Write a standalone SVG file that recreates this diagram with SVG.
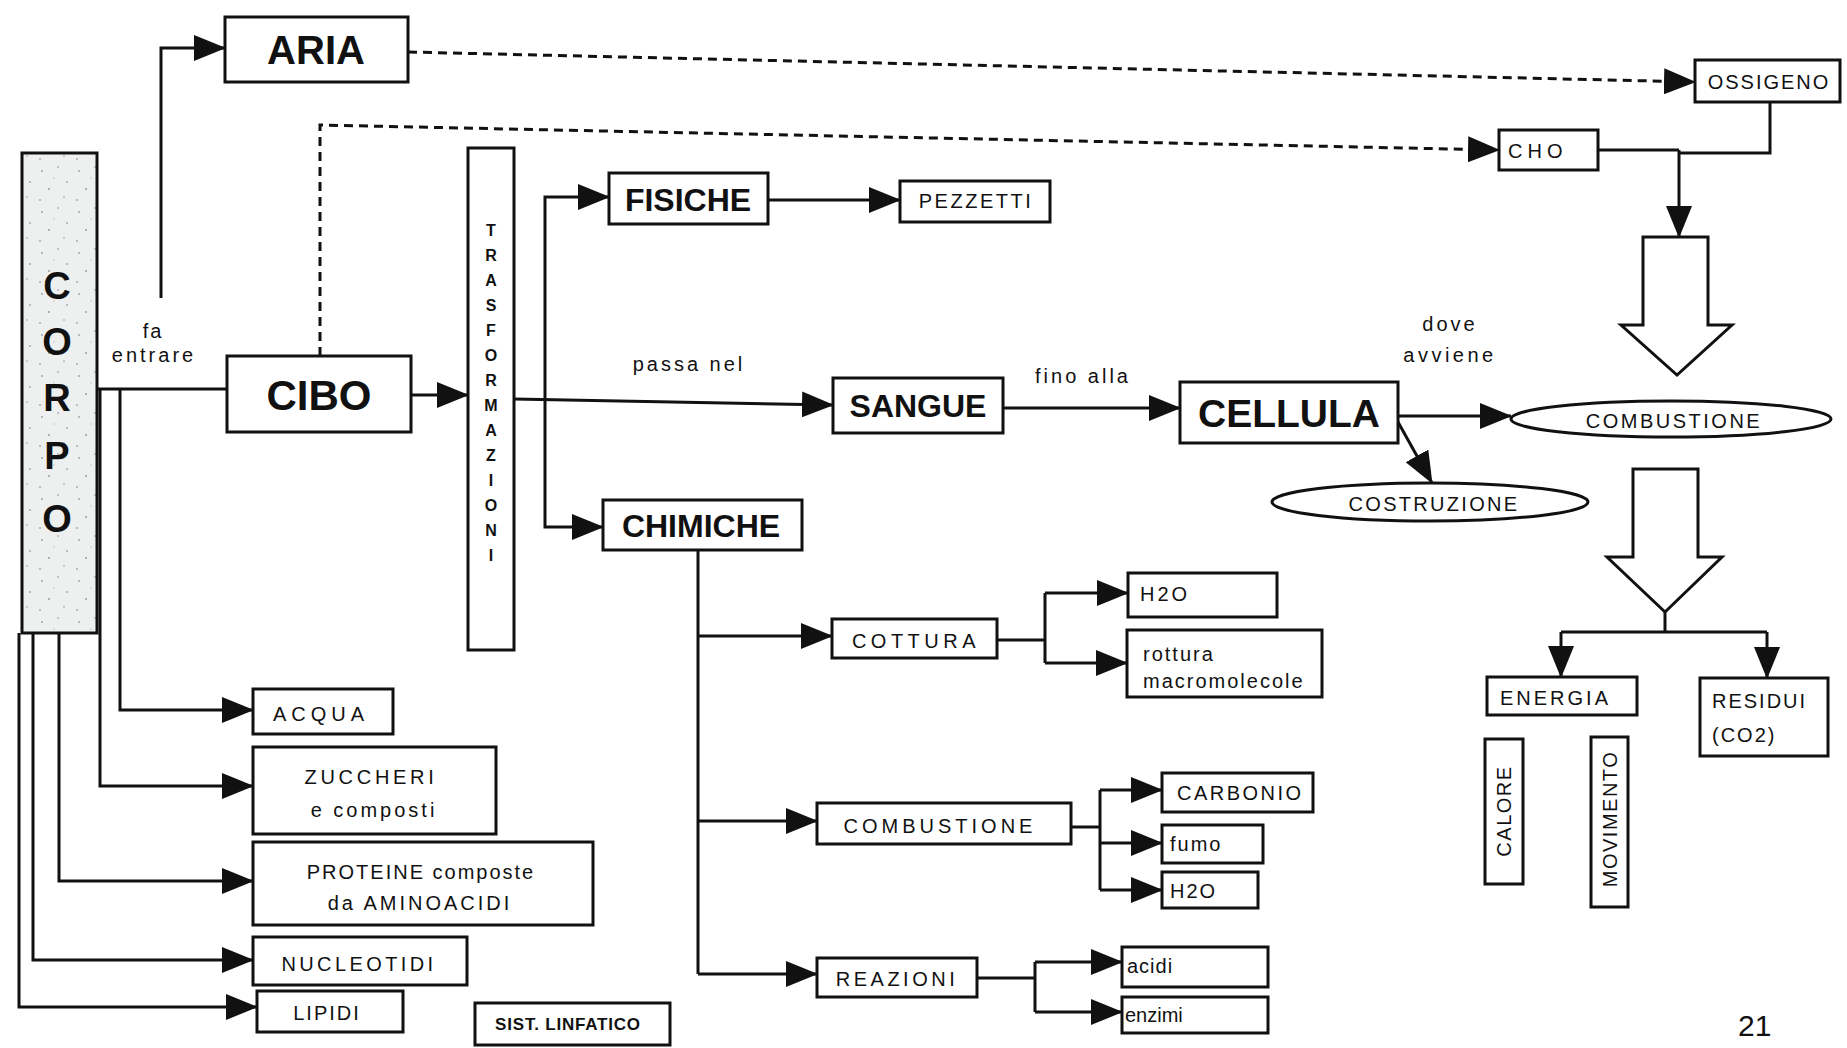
<svg xmlns="http://www.w3.org/2000/svg" width="1847" height="1048" viewBox="0 0 1847 1048">
<style>
.box{fill:#fff;stroke:#111;stroke-width:3}
.ln{fill:none;stroke:#111;stroke-width:3;marker-end:url(#ah)}
.ln0{fill:none;stroke:#111;stroke-width:3}
.dash{stroke-dasharray:9 6}
.b{font-family:"Liberation Sans",Arial,sans-serif;font-weight:bold;fill:#111}
.s{font-family:"Liberation Sans",Arial,sans-serif;font-size:20px;fill:#111}
.m{text-anchor:middle}
</style>
<defs>
<marker id="ah" markerUnits="userSpaceOnUse" markerWidth="32" markerHeight="26" viewBox="0 0 32 26" refX="31" refY="13" orient="auto">
<path d="M0,0 L32,13 L0,26 Z" fill="#111"/>
</marker>
<pattern id="speck" width="37" height="41" patternUnits="userSpaceOnUse">
<rect width="37" height="41" fill="#eef0f0"/>
<circle cx="5" cy="7" r="1" fill="#9aa"/><circle cx="21" cy="3" r="0.8" fill="#889"/>
<circle cx="30" cy="18" r="1" fill="#aab"/><circle cx="12" cy="25" r="0.9" fill="#899"/>
<circle cx="27" cy="33" r="0.8" fill="#99a"/><circle cx="3" cy="36" r="1" fill="#aaa"/>
<circle cx="17" cy="14" r="0.7" fill="#bbb"/>
</pattern>
</defs>

<g id="connectors">
<path class="ln" d="M161,298 V48 H225"/>
<path class="ln dash" d="M408,52 L1695,82"/>
<path class="ln dash" d="M320,356 V125 L1499,150"/>
<path class="ln0" d="M97,389 H227"/>
<path class="ln" d="M411,395 H468"/>
<path class="ln" d="M514,399 L833,405"/>
<path class="ln" d="M545,399 V197 H609"/>
<path class="ln" d="M545,399 V527 H603"/>
<path class="ln" d="M768,200 H900"/>
<path class="ln" d="M1003,408 H1180"/>
<path class="ln" d="M1398,416 H1511"/>
<path class="ln" d="M1398,422 L1432,483"/>
<path class="ln0" d="M1770,102 V153 H1679"/>
<path class="ln0" d="M1598,150 H1679"/>
<path class="ln" d="M1679,150 V237"/>
<path class="ln0" d="M1665,612 V632 M1561,632 H1767"/>
<path class="ln" d="M1561,632 V677"/>
<path class="ln" d="M1767,632 V678"/>
<path class="ln0" d="M698,551 V974"/>
<path class="ln" d="M698,636 H832"/>
<path class="ln" d="M698,821 H817"/>
<path class="ln" d="M698,974 H817"/>
<path class="ln0" d="M997,640 H1045 M1045,593 V663"/>
<path class="ln" d="M1045,593 H1128"/>
<path class="ln" d="M1045,663 H1127"/>
<path class="ln0" d="M1072,827 H1100 M1100,790 V890"/>
<path class="ln" d="M1100,790 H1162"/>
<path class="ln" d="M1100,843 H1162"/>
<path class="ln" d="M1100,890 H1162"/>
<path class="ln0" d="M977,978 H1035 M1035,962 V1012"/>
<path class="ln" d="M1035,962 H1122"/>
<path class="ln" d="M1035,1012 H1122"/>
<path class="ln" d="M120,389 V710 H253"/>
<path class="ln" d="M100,389 V786 H253"/>
<path class="ln" d="M59,633 V881 H253"/>
<path class="ln" d="M33,633 V960 H253"/>
<path class="ln" d="M19,633 V1007 H257"/>
</g>

<g id="labels">
<text class="s m" x="153" y="338" style="letter-spacing:2px">fa</text>
<text class="s m" x="154" y="362" style="letter-spacing:3px">entrare</text>
<text class="s m" x="689" y="371" style="letter-spacing:3px">passa nel</text>
<text class="s m" x="1083" y="383" style="letter-spacing:3px">fino alla</text>
<text class="s m" x="1450" y="331" style="letter-spacing:3px">dove</text>
<text class="s m" x="1450" y="362" style="letter-spacing:3.5px">avviene</text>
</g>

<g id="corpo">
<rect class="box" x="22" y="153" width="75" height="480" style="fill:url(#speck)"/>
<text class="b m" x="57" y="299" font-size="38">C</text>
<text class="b m" x="57" y="355" font-size="38">O</text>
<text class="b m" x="57" y="411" font-size="38">R</text>
<text class="b m" x="57" y="469" font-size="38">P</text>
<text class="b m" x="57" y="532" font-size="38">O</text>
</g>
<g id="aria"><rect class="box" x="225" y="17" width="183" height="65"/><text class="b m" x="316" y="64" font-size="40">ARIA</text></g>
<g id="ossigeno"><rect class="box" x="1695" y="60" width="145" height="42"/><text class="s m" x="1769" y="89" style="letter-spacing:2px">OSSIGENO</text></g>
<g id="cho"><rect class="box" x="1499" y="130" width="99" height="40"/><text class="s" x="1508" y="158" font-size="22" style="letter-spacing:5px">CHO</text></g>
<g id="cibo"><rect class="box" x="227" y="356" width="184" height="76"/><text class="b m" x="319" y="410" font-size="42">CIBO</text></g>
<g id="trasformazioni"><rect class="box" x="468" y="148" width="46" height="502"/>
<g class="b m" font-size="16">
<text x="491" y="236">T</text><text x="491" y="261">R</text><text x="491" y="286">A</text><text x="491" y="311">S</text><text x="491" y="336">F</text><text x="491" y="361">O</text><text x="491" y="386">R</text><text x="491" y="411">M</text><text x="491" y="436">A</text><text x="491" y="461">Z</text><text x="491" y="486">I</text><text x="491" y="511">O</text><text x="491" y="536">N</text><text x="491" y="561">I</text>
</g></g>
<g id="fisiche"><rect class="box" x="609" y="173" width="159" height="51"/><text class="b m" x="688" y="211" font-size="32">FISICHE</text></g>
<g id="pezzetti"><rect class="box" x="900" y="181" width="150" height="41"/><text class="s m" x="976" y="208" style="letter-spacing:2.5px">PEZZETTI</text></g>
<g id="chimiche"><rect class="box" x="603" y="500" width="199" height="50"/><text class="b m" x="701" y="537" font-size="32">CHIMICHE</text></g>
<g id="sangue"><rect class="box" x="833" y="378" width="170" height="55"/><text class="b m" x="918" y="417" font-size="32">SANGUE</text></g>
<g id="cellula"><rect class="box" x="1180" y="382" width="218" height="61"/><text class="b m" x="1289" y="427" font-size="39">CELLULA</text></g>
<g id="combustione-cell"><ellipse class="box" cx="1671" cy="419" rx="160" ry="18"/><text class="s m" x="1674" y="428" style="letter-spacing:2.5px">COMBUSTIONE</text></g>
<g id="costruzione"><ellipse class="box" cx="1430" cy="502" rx="158" ry="19"/><text class="s m" x="1434" y="511" style="letter-spacing:2.3px">COSTRUZIONE</text></g>
<g id="freccia1"><polygon class="box" points="1643,237 1708,237 1708,325 1732,325 1677,375 1621,325 1643,325"/></g>
<g id="freccia2"><polygon class="box" points="1633,469 1698,469 1698,557 1722,557 1665,612 1607,557 1633,557"/></g>
<g id="energia"><rect class="box" x="1487" y="677" width="150" height="38"/><text class="s" x="1500" y="705" style="letter-spacing:3px">ENERGIA</text></g>
<g id="residui"><rect class="box" x="1700" y="678" width="128" height="78"/><text class="s" x="1712" y="708" style="letter-spacing:2px">RESIDUI</text><text class="s" x="1712" y="742" style="letter-spacing:2px">(CO2)</text></g>
<g id="calore"><rect class="box" x="1485" y="739" width="38" height="145"/><text class="s m" transform="translate(1511,811) rotate(-90)" style="letter-spacing:1.5px">CALORE</text></g>
<g id="movimento"><rect class="box" x="1591" y="737" width="37" height="170"/><text class="s m" transform="translate(1617,819) rotate(-90)" style="letter-spacing:1.5px">MOVIMENTO</text></g>
<g id="cottura"><rect class="box" x="832" y="619" width="165" height="39"/><text class="s m" x="916" y="648" font-size="22" style="letter-spacing:4.5px">COTTURA</text></g>
<g id="combustione-chim"><rect class="box" x="817" y="803" width="254" height="41"/><text class="s m" x="940" y="833" font-size="22" style="letter-spacing:4px">COMBUSTIONE</text></g>
<g id="reazioni"><rect class="box" x="817" y="958" width="160" height="39"/><text class="s m" x="897" y="986" font-size="22" style="letter-spacing:3.5px">REAZIONI</text></g>
<g id="h2o-cottura"><rect class="box" x="1128" y="573" width="149" height="44"/><text class="s" x="1140" y="601" style="letter-spacing:3px">H2O</text></g>
<g id="rottura"><rect class="box" x="1127" y="630" width="195" height="67"/><text class="s" x="1143" y="661" style="letter-spacing:2px">rottura</text><text class="s" x="1143" y="688" style="letter-spacing:2px">macromolecole</text></g>
<g id="carbonio"><rect class="box" x="1162" y="773" width="151" height="39"/><text class="s" x="1177" y="800" style="letter-spacing:2.5px">CARBONIO</text></g>
<g id="fumo"><rect class="box" x="1162" y="825" width="101" height="38"/><text class="s" x="1170" y="851" style="letter-spacing:2px">fumo</text></g>
<g id="h2o-combustione"><rect class="box" x="1162" y="872" width="96" height="36"/><text class="s" x="1170" y="898" font-size="22" style="letter-spacing:2px">H2O</text></g>
<g id="acidi"><rect class="box" x="1122" y="947" width="146" height="40"/><text class="s" x="1127" y="973" style="letter-spacing:1px">acidi</text></g>
<g id="enzimi"><rect class="box" x="1122" y="997" width="146" height="36"/><text class="s" x="1125" y="1022">enzimi</text></g>
<g id="acqua"><rect class="box" x="253" y="689" width="140" height="45"/><text class="s" x="273" y="721" font-size="22" style="letter-spacing:5px">ACQUA</text></g>
<g id="zuccheri"><rect class="box" x="253" y="747" width="243" height="87"/><text class="s m" x="371" y="784" font-size="22" style="letter-spacing:3.7px">ZUCCHERI</text><text class="s m" x="374" y="817" font-size="22" style="letter-spacing:3px">e composti</text></g>
<g id="proteine"><rect class="box" x="253" y="842" width="340" height="83"/><text class="s m" x="421" y="879" font-size="22" style="letter-spacing:2px">PROTEINE composte</text><text class="s m" x="420" y="910" font-size="22" style="letter-spacing:3px">da AMINOACIDI</text></g>
<g id="nucleotidi"><rect class="box" x="253" y="937" width="214" height="48"/><text class="s m" x="359" y="971" font-size="22" style="letter-spacing:3.4px">NUCLEOTIDI</text></g>
<g id="lipidi"><rect class="box" x="257" y="991" width="146" height="41"/><text class="s m" x="327" y="1020" font-size="22" style="letter-spacing:2px">LIPIDI</text></g>
<g id="sist-linfatico"><rect class="box" x="475" y="1003" width="195" height="42"/><text class="b m" x="568" y="1030" font-size="17" style="letter-spacing:0.8px">SIST. LINFATICO</text></g>
<text x="1738" y="1036" font-family="Liberation Sans, Arial, sans-serif" font-size="30" fill="#111">21</text>
</svg>
